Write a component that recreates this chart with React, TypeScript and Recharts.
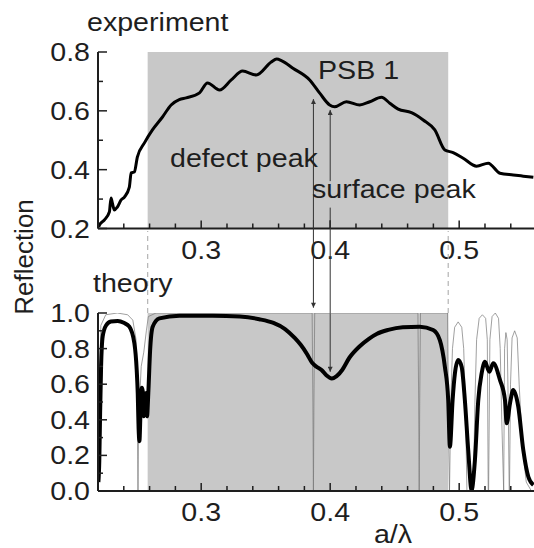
import React from 'react'
import { LineChart, Line, XAxis, YAxis, ReferenceArea, ReferenceLine } from 'recharts'

// a/λ axis
const xTicks = [0.22, 0.24, 0.26, 0.28, 0.3, 0.32, 0.34, 0.36, 0.38, 0.4, 0.42, 0.44, 0.46, 0.48, 0.5, 0.52, 0.54]
const xLabels = [0.3, 0.4, 0.5]
const xDomain = [0.22, 0.558]

// reflection axes
const expTicks = [0.2, 0.3, 0.4, 0.5, 0.6, 0.7, 0.8]
const expLabels = [0.2, 0.4, 0.6, 0.8]
const theoryTicks = [0, 0.1, 0.2, 0.3, 0.4, 0.5, 0.6, 0.7, 0.8, 0.9, 1.0]
const theoryLabels = [0, 0.2, 0.4, 0.6, 0.8, 1.0]

// photonic stop band and the two peaks
const psb = [0.2585, 0.4915]
const defectPeak = 0.387
const surfacePeak = 0.4

// experiment
const expA = [0.2205, 0.2211, 0.2249, 0.2288, 0.2301, 0.2311, 0.2327, 0.235, 0.2379, 0.2405, 0.2443, 0.2457, 0.2482, 0.2505, 0.256, 0.2622, 0.27, 0.2767, 0.283, 0.2884, 0.2987, 0.3049, 0.3142, 0.3233, 0.3321, 0.3427, 0.3543, 0.3585, 0.3625, 0.3711, 0.3841, 0.3919, 0.3996, 0.4035, 0.4126, 0.4229, 0.4307, 0.4398, 0.4462, 0.4527, 0.463, 0.4721, 0.4811, 0.4889, 0.4953, 0.5031, 0.5135, 0.5225, 0.5316, 0.5419, 0.5497, 0.5575]
const expR = [0.205, 0.212, 0.229, 0.256, 0.304, 0.287, 0.263, 0.273, 0.297, 0.307, 0.341, 0.389, 0.392, 0.443, 0.491, 0.535, 0.579, 0.62, 0.638, 0.644, 0.661, 0.695, 0.671, 0.705, 0.735, 0.722, 0.766, 0.776, 0.77, 0.745, 0.705, 0.66, 0.62, 0.614, 0.631, 0.62, 0.631, 0.646, 0.626, 0.606, 0.594, 0.569, 0.535, 0.467, 0.458, 0.439, 0.412, 0.422, 0.388, 0.382, 0.378, 0.374]

// theory, thick curve
const thickA = [0.2203, 0.221, 0.2216, 0.2224, 0.2236, 0.2262, 0.23, 0.2353, 0.24, 0.2443, 0.2482, 0.25, 0.2508, 0.2515, 0.2521, 0.253, 0.254, 0.2547, 0.2555, 0.2563, 0.2573, 0.258, 0.259, 0.2604, 0.2624, 0.2676, 0.2832, 0.309, 0.33, 0.345, 0.356, 0.365, 0.3725, 0.3773, 0.382, 0.386, 0.389, 0.3933, 0.397, 0.4013, 0.405, 0.4093, 0.415, 0.4227, 0.43, 0.436, 0.445, 0.4563, 0.4695, 0.4798, 0.485, 0.4889, 0.4915, 0.4928, 0.4949, 0.4967, 0.4992, 0.5019, 0.5044, 0.507, 0.5096, 0.5122, 0.5148, 0.5174, 0.52, 0.5233, 0.5264, 0.5316, 0.5355, 0.5368, 0.5394, 0.5419, 0.5458, 0.5497, 0.5536, 0.5575]
const thickR = [0.05, 0.17, 0.42, 0.7, 0.867, 0.93, 0.952, 0.955, 0.945, 0.923, 0.83, 0.68, 0.55, 0.35, 0.28, 0.45, 0.58, 0.56, 0.42, 0.52, 0.55, 0.42, 0.55, 0.79, 0.923, 0.97, 0.985, 0.985, 0.98, 0.965, 0.944, 0.91, 0.86, 0.82, 0.77, 0.72, 0.7, 0.68, 0.65, 0.632, 0.645, 0.68, 0.75, 0.812, 0.855, 0.882, 0.905, 0.92, 0.923, 0.904, 0.848, 0.698, 0.511, 0.249, 0.511, 0.661, 0.736, 0.698, 0.511, 0.23, 0.006, 0.174, 0.511, 0.661, 0.726, 0.67, 0.717, 0.624, 0.511, 0.38, 0.493, 0.567, 0.474, 0.23, 0.08, 0.034]

// theory, thin curve
const thinA = [0.2203, 0.2212, 0.2222, 0.226, 0.235, 0.243, 0.247, 0.2495, 0.2505, 0.251, 0.2515, 0.2535, 0.2555, 0.2575, 0.259, 0.265, 0.386, 0.3866, 0.387, 0.3874, 0.388, 0.468, 0.4686, 0.469, 0.4694, 0.47, 0.491, 0.4918, 0.4925, 0.4935, 0.4948, 0.4965, 0.4992, 0.502, 0.5035, 0.5048, 0.506, 0.511, 0.5122, 0.5135, 0.5155, 0.518, 0.5205, 0.5218, 0.5225, 0.5228, 0.5238, 0.5255, 0.528, 0.5305, 0.5318, 0.533, 0.5345, 0.5352, 0.5362, 0.5372, 0.538, 0.5388, 0.539, 0.5398, 0.541, 0.543, 0.545, 0.5465, 0.549, 0.552, 0.556]
const thinR = [0, 0.6, 0.93, 0.99, 1.0, 0.99, 0.96, 0.85, 0.4, 0, 0.4, 0.7, 0.78, 0.9, 0.98, 1.0, 1.0, 0.5, 0, 0.5, 1.0, 1.0, 0.5, 0, 0.5, 1.0, 1.0, 0.3, 0, 0.5, 0.8, 0.92, 0.95, 0.92, 0.8, 0.5, 0, 0, 0.5, 0.85, 0.97, 0.99, 0.97, 0.85, 0, 0, 0.85, 0.98, 1.0, 0.97, 0.8, 0.4, 0, 0.8, 0.89, 0.85, 0.5, 0, 0, 0.6, 0.86, 0.9, 0.86, 0.6, 0.25, 0.05, 0]

const expData = expA.map((a, i) => ({ a, r: expR[i] }))
const thickData = thickA.map((a, i) => ({ a, r: thickR[i] }))
const thinData = thinA.map((a, i) => ({ a, r: thinR[i] }))

const FONT = '"Liberation Sans", Arial, Helvetica, sans-serif'
const INK = '#1e1e1e'
const BAND = '#c8c8c8'

const near = (list: number[], v: number) => list.some((t) => Math.abs(t - v) < 1e-6)

function XTick(props: any) {
  const { x, y, payload, labels } = props
  const major = near(labels, payload.value)
  return (
    <g>
      <line x1={x} x2={x} y1={y} y2={y - (major ? 8 : 5)} stroke={INK} strokeWidth={1.5} />
      {major && (
        <text transform={`translate(${x},${y + 30}) scale(1.1,1)`} textAnchor="middle" fontSize={26} fontFamily={FONT} fill={INK}>
          {payload.value.toFixed(1)}
        </text>
      )}
    </g>
  )
}

function YTick(props: any) {
  const { x, y, payload, labels } = props
  const major = near(labels, payload.value)
  return (
    <g>
      <line x1={x} x2={x + (major ? 9 : 5)} y1={y} y2={y} stroke={INK} strokeWidth={1.5} />
      {major && (
        <text transform={`translate(${x - 8},${y + 9}) scale(1.1,1)`} textAnchor="end" fontSize={26} fontFamily={FONT} fill={INK}>
          {payload.value.toFixed(1)}
        </text>
      )}
    </g>
  )
}

function Head({ id }: { id: string }) {
  return (
    <defs>
      <marker id={id} viewBox="0 0 10 10" refX={10} refY={5} markerWidth={8} markerHeight={5} markerUnits="userSpaceOnUse" orient="auto">
        <path d="M0,0 L10,5 L0,10 z" fill="#333" />
      </marker>
    </defs>
  )
}

function Txt({ x, y, children, anchor = 'start' }: any) {
  return (
    <text transform={`translate(${x},${y}) scale(1.1,1)`} textAnchor={anchor} fontSize={26} fontFamily={FONT} fill={INK}>
      {children}
    </text>
  )
}

const axisLine = { stroke: INK, strokeWidth: 2 }

export default function App() {
  return (
    <div style={{ position: 'absolute', left: 0, top: 0, width: 534, height: 548, overflow: 'hidden', background: '#fff' }}>
      <div style={{ position: 'absolute', left: 0, top: 0 }}>
        <LineChart width={534} height={282} margin={{ top: 52, right: 0, bottom: 20, left: 0 }}>
          <Head id="headTop" />
          <XAxis dataKey="a" type="number" domain={xDomain} allowDataOverflow ticks={xTicks} interval={0} height={33.5}
            tickSize={0} tickMargin={0} tickLine={false} axisLine={axisLine}
            tick={(p: any) => <XTick {...p} labels={xLabels} />} />
          <YAxis type="number" domain={[0.2, 0.8]} allowDataOverflow ticks={expTicks} interval={0} width={98}
            tickSize={0} tickMargin={0} tickLine={false} axisLine={axisLine}
            tick={(p: any) => <YTick {...p} labels={expLabels} />} />
          <ReferenceArea x1={psb[0]} x2={psb[1]} y1={0.2} y2={0.8} fill={BAND} fillOpacity={1} stroke="none" />
          <ReferenceLine segment={[{ x: defectPeak, y: 0.2 }, { x: defectPeak, y: 0.64 }]} stroke="#333" strokeWidth={1} markerEnd="url(#headTop)" ifOverflow="visible" />
          <ReferenceLine segment={[{ x: surfacePeak, y: 0.361 }, { x: surfacePeak, y: 0.603 }]} stroke="#333" strokeWidth={1} markerEnd="url(#headTop)" ifOverflow="visible" />
          <ReferenceLine segment={[{ x: surfacePeak, y: 0.2 }, { x: surfacePeak, y: 0.271 }]} stroke="#333" strokeWidth={1} ifOverflow="visible" />
          <Line data={expData} dataKey="r" type="monotone" stroke="#000" strokeWidth={3} dot={false} isAnimationActive={false} />
        </LineChart>
      </div>
      <div style={{ position: 'absolute', left: 0, top: 220 }}>
        <LineChart width={534} height={328} margin={{ top: 93, right: 0, bottom: 0, left: 0 }}>
          <Head id="headBot" />
          <XAxis dataKey="a" type="number" domain={xDomain} allowDataOverflow ticks={xTicks} interval={0} height={57}
            tickSize={0} tickMargin={0} tickLine={false} axisLine={axisLine}
            tick={(p: any) => <XTick {...p} labels={xLabels} />} />
          <YAxis type="number" domain={[0, 1]} allowDataOverflow ticks={theoryTicks} interval={0} width={98}
            tickSize={0} tickMargin={0} tickLine={false} axisLine={axisLine}
            tick={(p: any) => <YTick {...p} labels={theoryLabels} />} />
          <ReferenceArea x1={psb[0]} x2={psb[1]} y1={0} y2={1} fill={BAND} fillOpacity={1} stroke="none" />
          <ReferenceLine segment={[{ x: psb[0], y: 1.0 }, { x: psb[0], y: 1.46 }]} stroke="#b4b4b4" strokeWidth={1.2} strokeDasharray="5 4" ifOverflow="visible" />
          <ReferenceLine segment={[{ x: psb[1], y: 1.0 }, { x: psb[1], y: 1.46 }]} stroke="#b4b4b4" strokeWidth={1.2} strokeDasharray="5 4" ifOverflow="visible" />
          <ReferenceLine segment={[{ x: defectPeak, y: 1.53 }, { x: defectPeak, y: 1.03 }]} stroke="#333" strokeWidth={1} markerEnd="url(#headBot)" ifOverflow="visible" />
          <ReferenceLine segment={[{ x: surfacePeak, y: 1.53 }, { x: surfacePeak, y: 0.67 }]} stroke="#333" strokeWidth={1} markerEnd="url(#headBot)" ifOverflow="visible" />
          <Line data={thinData} dataKey="r" type="linear" stroke="#777" strokeWidth={0.7} dot={false} isAnimationActive={false} />
          <Line data={thickData} dataKey="r" type="monotone" stroke="#000" strokeWidth={4} dot={false} isAnimationActive={false} />
        </LineChart>
      </div>
      <svg width={534} height={548} style={{ position: 'absolute', left: 0, top: 0, pointerEvents: 'none' }}>
        <Txt x={87} y={31}>experiment</Txt>
        <Txt x={318} y={79}>PSB 1</Txt>
        <Txt x={170} y={167}>defect peak</Txt>
        <Txt x={312} y={198}>surface peak</Txt>
        <Txt x={93} y={292}>theory</Txt>
        <Txt x={393} y={543} anchor="middle">a/λ</Txt>
        <text transform="translate(33,257) rotate(-90)" textAnchor="middle" fontSize={26} fontFamily={FONT} fill={INK}>
          Reflection
        </text>
      </svg>
    </div>
  )
}
